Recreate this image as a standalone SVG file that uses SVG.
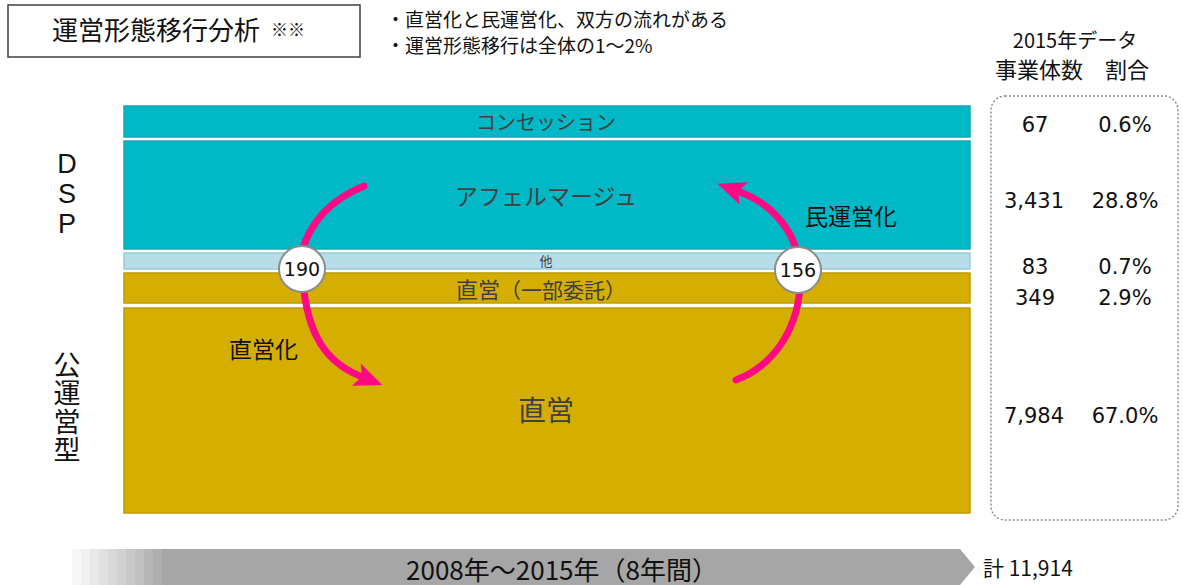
<svg xmlns="http://www.w3.org/2000/svg" width="1183" height="585" viewBox="0 0 1183 585">
<style>
.jp{font-family:"DejaVu Sans","Noto Sans CJK JP",sans-serif}
.cj{font-family:"Noto Sans CJK JP",sans-serif}
.bar-t{fill:#00B8C6;stroke:#1AA5B3;stroke-width:1.5}
.bar-l{fill:#B7DEE8;stroke:#99CCDA;stroke-width:1.5}
.bar-g{fill:#D4AE00;stroke:#BF9B00;stroke-width:1.5}
.lbl{fill:#404040;text-anchor:middle}
.num{font-family:"DejaVu Sans",sans-serif;font-size:21px;fill:#111;text-anchor:middle}
.arc{fill:none;stroke:#FF0A84;stroke-width:7;stroke-linecap:round}
.cnt{fill:#fff;stroke:#8C8C8C;stroke-width:2}
</style>
<defs>
<marker id="ah" markerUnits="userSpaceOnUse" markerWidth="30" markerHeight="30" refX="4" refY="12" orient="auto">
<path d="M0,0 L28,12 L0,24 L6,12 Z" fill="#FF0A84"/>
</marker>
</defs>
<rect width="1183" height="585" fill="#fff"/>

<g id="title">
<rect x="8" y="5" width="352" height="52" fill="#fff" stroke="#404040" stroke-width="1.5"/>
<text x="52" y="40" class="cj" font-size="26" fill="#111">運営形態移行分析</text>
<text x="271" y="36" class="cj" font-size="17" fill="#111">※※</text>
</g>

<g id="notes" class="cj" font-size="19" fill="#111">
<text x="386" y="27">・直営化と民運営化、双方の流れがある</text>
<text x="386" y="53">・運営形態移行は全体の1～2%</text>
</g>

<g id="header" class="cj" fill="#111" text-anchor="middle">
<text x="1075" y="48" font-size="20">2015年データ</text>
<text x="1072" y="78" font-size="22">事業体数　割合</text>
</g>

<g id="side-labels" fill="#111" text-anchor="middle">
<text x="67" y="173" font-size="27" font-family="'Liberation Sans',sans-serif">D</text>
<text x="67" y="203" font-size="27" font-family="'Liberation Sans',sans-serif">S</text>
<text x="67" y="233" font-size="27" font-family="'Liberation Sans',sans-serif">P</text>
<text x="67" y="408" font-size="27" letter-spacing="1.5" writing-mode="vertical-rl" style="text-orientation:upright" font-family="'Noto Sans CJK JP',sans-serif">公運営型</text>
</g>

<g id="bar-concession">
<rect x="124" y="106" width="846" height="31" class="bar-t"/>
<text x="546" y="130" class="cj lbl" font-size="20">コンセッション</text>
</g>
<g id="bar-affermage">
<rect x="124" y="141" width="846" height="108" class="bar-t"/>
<text x="546" y="205" class="cj lbl" font-size="23">アフェルマージュ</text>
</g>
<g id="bar-other">
<rect x="124" y="253" width="846" height="16" class="bar-l"/>
<text x="546" y="266" class="cj lbl" font-size="13">他</text>
</g>
<g id="bar-partial">
<rect x="124" y="273" width="846" height="30" class="bar-g"/>
<text x="541" y="298" class="cj lbl" font-size="22">直営<tspan font-size="21">（一部委託）</tspan></text>
</g>
<g id="bar-direct">
<rect x="124" y="308" width="846" height="205" class="bar-g"/>
<text x="546" y="421" class="cj lbl" font-size="28">直営</text>
</g>

<g id="connectors">
<path class="arc" d="M364,186 C322,203 298,238 302,270 C305,325 320,360 360,376" marker-end="url(#ah)"/>
<path class="arc" d="M736,380 C775,365 803,325 800,270 C798,235 775,205 740,192" marker-end="url(#ah)"/>
</g>

<g id="count-190">
<circle cx="302" cy="269" r="23" class="cnt"/>
<text x="302" y="276" class="num" style="font-size:19px">190</text>
</g>
<g id="count-156">
<circle cx="798" cy="270" r="23" class="cnt"/>
<text x="798" y="277" class="num" style="font-size:19px">156</text>
</g>

<g id="flow-labels" class="cj" fill="#111">
<text x="805" y="225" font-size="23">民運営化</text>
<text x="229" y="358" font-size="23">直営化</text>
</g>

<g id="data-box">
<rect x="991" y="96" width="187" height="424" rx="14" fill="none" stroke="#8C8C8C" stroke-width="1.5" stroke-dasharray="2,2"/>
<text x="1035" y="132" class="num">67</text><text x="1125" y="132" class="num">0.6%</text>
<text x="1034" y="208" class="num">3,431</text><text x="1125" y="208" class="num">28.8%</text>
<text x="1035" y="274" class="num">83</text><text x="1125" y="274" class="num">0.7%</text>
<text x="1035" y="305" class="num">349</text><text x="1125" y="305" class="num">2.9%</text>
<text x="1034" y="423" class="num">7,984</text><text x="1125" y="423" class="num">67.0%</text>
</g>

<g id="timeline">
<rect x="72" y="549" width="9" height="36" fill="#F7F7F7"/>
<rect x="81" y="549" width="9" height="36" fill="#F0F0F0"/>
<rect x="90" y="549" width="9" height="36" fill="#E8E8E8"/>
<rect x="99" y="549" width="9" height="36" fill="#E0E0E0"/>
<rect x="108" y="549" width="9" height="36" fill="#D8D8D8"/>
<rect x="117" y="549" width="9" height="36" fill="#D0D0D0"/>
<rect x="126" y="549" width="9" height="36" fill="#C8C8C8"/>
<rect x="135" y="549" width="9" height="36" fill="#C0C0C0"/>
<rect x="144" y="549" width="9" height="36" fill="#B6B6B6"/>
<rect x="153" y="549" width="9" height="36" fill="#AEAEAE"/>
<path d="M162,549 L960,549 L975,567 L960,585 L162,585 Z" fill="#A6A6A6"/>
<text x="562" y="580" class="cj" font-size="26" fill="#111" text-anchor="middle">2008年～2015年（8年間）</text>
<text x="983" y="576" class="cj" font-size="21" fill="#111">計 11,914</text>
</g>
</svg>
